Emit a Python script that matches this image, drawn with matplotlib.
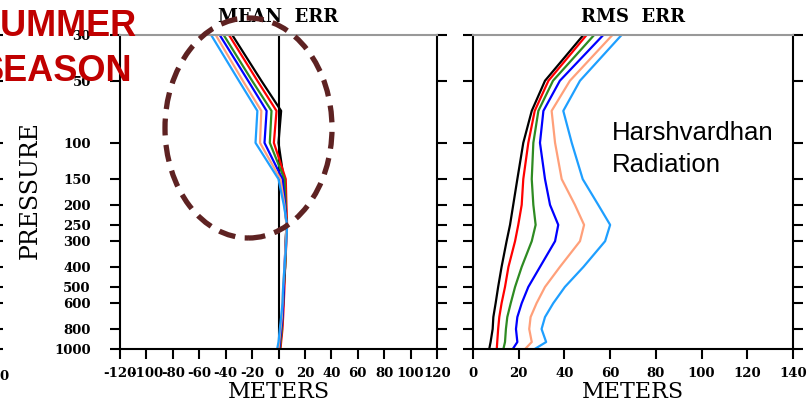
import numpy as np
import matplotlib
matplotlib.use("Agg")
import matplotlib.pyplot as plt
from matplotlib.patches import Ellipse

# pressure levels (hPa)
levels = [30, 50, 70, 100, 150, 200, 250, 300, 400, 500, 600, 700, 800, 925, 1000]
tick_levels = [30, 50, 100, 150, 200, 250, 300, 400, 500, 600, 800, 1000]

colors = ["black", "red", "#2e8b22", "blue", "#ffa07a", "#1e9fff"]

# mean error (m), one list per experiment
mean_black = [-35, -13, 2, 0, 4, 5, 6, 5.5, 5, 4, 3.5, 3, 2.5, 1.5, 1]
mean_red = [-37.5, -16, -1.5, -3.5, 5.5, 6, 6.5, 6, 5, 4.5, 4, 3.5, 3, 2, 1.5]
mean_green = [-41.5, -20, -5.3, -6.6, 4.5, 5.5, 6, 5.5, 5, 4, 3.5, 3, 2.5, 1.5, 1]
mean_blue = [-44.5, -23, -9, -10.6, 3, 5, 6, 5.5, 4.5, 4, 3.5, 3, 2, 1, 0.5]
mean_salmon = [-47.5, -27, -13, -14, 1.5, 4.5, 6, 5.5, 4.5, 3.5, 3, 2.5, 1.5, 0.5, 0]
mean_lblue = [-51, -30, -16, -17.4, 0, 4, 6.5, 6, 4.5, 3.5, 3, 2, 1, 0, -1]

# rms error (m)
rms_black = [48.3, 31.5, 25.7, 22, 19.4, 17.6, 16.2, 14.7, 12.5, 11, 9.9, 8.9, 8.6, 7.7, 7.1]
rms_red = [49.7, 33, 27, 24.2, 22, 21.3, 19.8, 18.4, 15.5, 14, 12.5, 11.5, 11, 10.6, 10.4]
rms_green = [53, 35, 28.6, 26.4, 25.7, 26.4, 27.4, 25.7, 21.3, 18.4, 16.5, 15, 14.4, 14, 13.3]
rms_blue = [57, 38, 30.8, 29.3, 31.5, 33.7, 37.3, 35.9, 29.3, 24.2, 21.3, 19.4, 18.8, 19.4, 17.4]
rms_salmon = [61, 42.4, 34.4, 35.9, 38.8, 44.6, 48.6, 46.8, 38, 31.5, 27.8, 25.2, 24.6, 25.7, 22.8]
rms_lblue = [65, 46.8, 39.5, 43.2, 48, 54.8, 60, 57.8, 48.3, 40.2, 35.1, 31.5, 30, 32, 27]

mean_all = [mean_black, mean_red, mean_green, mean_blue, mean_salmon, mean_lblue]
rms_all = [rms_black, rms_red, rms_green, rms_blue, rms_salmon, rms_lblue]

W, H = 809, 404
fig = plt.figure(figsize=(W / 100, H / 100), dpi=100)

def px(x0, y0, x1, y1):
    # pixel box -> figure fraction
    return [x0 / W, 1 - y1 / H, (x1 - x0) / W, (y1 - y0) / H]

tickfont = dict(family="DejaVu Serif", weight="bold", size=9.5)

def style(ax, xlim, xticks, ylabels):
    ax.set_yscale("log")
    ax.set_ylim(1000, 30)
    ax.set_xlim(*xlim)
    ax.set_xticks(xticks)
    ax.set_yticks(tick_levels)
    ax.minorticks_off()
    if ylabels:
        ax.set_yticklabels([str(v) for v in tick_levels], **tickfont)
    else:
        ax.set_yticklabels([])
    ax.set_xticklabels([str(v) for v in xticks], **tickfont)
    ax.tick_params(axis="y", which="both", direction="out", length=7, width=1.5,
                   left=True, right=True, pad=14)
    ax.tick_params(axis="x", direction="out", length=7, width=1.5, pad=6)
    for s in ax.spines.values():
        s.set_linewidth(1.5)
    ax.spines["top"].set_color("#999999")
    ax.set_xlabel("METERS", family="DejaVu Serif", size=16, labelpad=1)

ax1 = fig.add_axes(px(120, 35, 437, 349))
ax1.axvline(0, color="black", lw=1.5)
for vals, c in zip(mean_all, colors):
    ax1.plot(vals, levels, color=c, lw=1.6)
style(ax1, (-120, 120), list(range(-120, 121, 20)), True)
ax1.set_title("MEAN  ERR", family="DejaVu Serif", weight="bold", size=13, pad=9)

ax2 = fig.add_axes(px(473, 35, 793, 349))
for vals, c in zip(rms_all, colors):
    ax2.plot(vals, levels, color=c, lw=1.6)
style(ax2, (0, 140), list(range(0, 141, 20)), False)
ax2.set_title("RMS  ERR", family="DejaVu Serif", weight="bold", size=13, pad=9)

# cropped neighbour panel on the far left (only its ticks show)
ax0 = fig.add_axes(px(-200, 35, -7, 349))
ax0.set_yscale("log")
ax0.set_ylim(1000, 30)
ax0.set_yticks(tick_levels)
ax0.minorticks_off()
ax0.set_yticklabels([])
ax0.set_xticks([])
ax0.tick_params(axis="y", left=False, right=True, direction="out", length=7, width=1.5)
for s in ax0.spines.values():
    s.set_visible(False)
fig.text(9 / W, 1 - 376 / H, "0", ha="right", va="center", **tickfont)

fig.text(30 / W, 1 - 190 / H, "PRESSURE", rotation=90, ha="center", va="center",
         family="DejaVu Serif", size=17)

fig.text(137 / W, 1 - 36 / H, "SUMMER", ha="right", va="baseline", color="#c00000",
         family="Liberation Sans", weight="bold", size=26, zorder=20)
fig.text(132 / W, 1 - 81 / H, "SEASON", ha="right", va="baseline", color="#c00000",
         family="Liberation Sans", weight="bold", size=26, zorder=20)

fig.text(612 / W, 1 - 140 / H, "Harshvardhan", ha="left", va="baseline",
         family="Liberation Sans", size=18.5)
fig.text(612 / W, 1 - 172 / H, "Radiation", ha="left", va="baseline",
         family="Liberation Sans", size=18.5)

ell = Ellipse((248.5 / W, 1 - 128 / H), 167 / W, 220 / H, transform=fig.transFigure,
              fill=False, edgecolor="#5e2222", lw=3.8, linestyle=(0, (3.2, 1.8)), zorder=15)
fig.patches.append(ell)

fig.savefig("out.png", dpi=100)
